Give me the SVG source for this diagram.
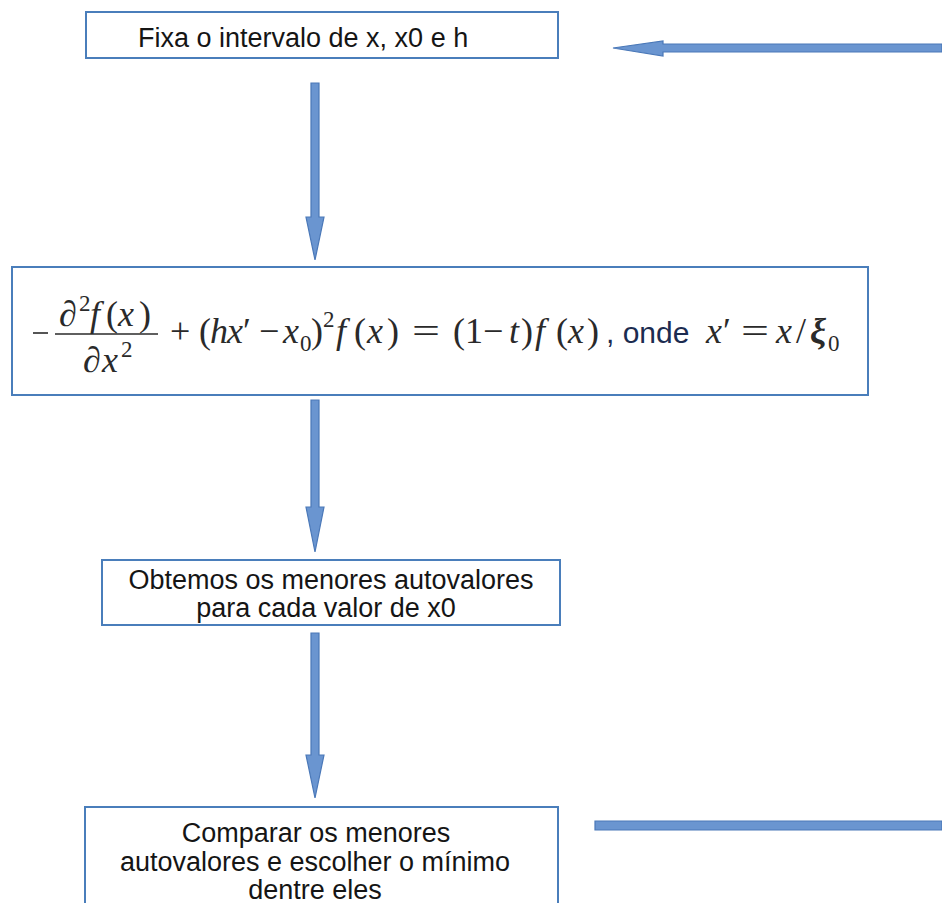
<svg xmlns="http://www.w3.org/2000/svg" width="942" height="903" viewBox="0 0 942 903">
<style>
.box{fill:#fff;stroke:#4a7ebb;stroke-width:2}
.arr{fill:#6a95d0;stroke:#4a78b8;stroke-width:1.2}
.t{font-family:"Liberation Sans",Arial,sans-serif;font-size:27px;fill:#151515}
.m{font-family:"Liberation Serif","Times New Roman",serif;font-size:36px;fill:#2a2a2a}
.i{font-style:italic}
.s{font-size:23px}
</style>
<rect width="942" height="903" fill="#fff"/>
<g id="connectors">
<polygon class="arr" points="613,48 663,41 663,44 942,44 942,52 663,52 663,56"/>
<polygon class="arr" points="311,83 319,83 319,217 324,217 315,260 306,217 311,217"/>
<polygon class="arr" points="311,400 319,400 319,507 324,507 315,552 306,507 311,507"/>
<polygon class="arr" points="311,633 319,633 319,755 324,755 315,798 306,755 311,755"/>
<polygon class="arr" points="595,821 942,821 942,830 595,830"/>
</g>
<g id="node1">
<rect class="box" x="86" y="12" width="472" height="46"/>
<text class="t" x="138" y="47">Fixa o intervalo de x, x0 e h</text>
</g>
<g id="node2">
<rect class="box" x="12" y="267" width="856" height="128"/>
<line x1="33" y1="333" x2="48" y2="333" stroke="#2a2a2a" stroke-width="1.6"/>
<line x1="55" y1="334" x2="158" y2="334" stroke="#2a2a2a" stroke-width="1.6"/>
<text class="m"><tspan x="59" y="326">∂</tspan><tspan class="s" x="79" y="311">2</tspan><tspan class="i" x="90" y="326">f</tspan><tspan x="106" y="326">(</tspan><tspan class="i" x="118" y="326">x</tspan><tspan x="139" y="326">)</tspan></text>
<text class="m"><tspan x="83" y="372">∂</tspan><tspan class="i" x="102" y="372">x</tspan><tspan class="s" x="121" y="357">2</tspan></text>
<text class="m"><tspan x="170" y="343">+</tspan><tspan x="199" y="343">(</tspan><tspan class="i" x="210" y="343">h</tspan><tspan class="i" x="227" y="343">x</tspan><tspan x="243" y="343">′</tspan><tspan x="259" y="343">−</tspan><tspan class="i" x="283" y="343">x</tspan><tspan class="s" x="300" y="351">0</tspan><tspan x="311" y="343">)</tspan><tspan class="s" x="323" y="327">2</tspan><tspan class="i" x="336" y="343">f</tspan><tspan x="354" y="343">(</tspan><tspan class="i" x="367" y="343">x</tspan><tspan x="387" y="343">)</tspan></text>
<text class="m" x="412" y="343" textLength="28" lengthAdjust="spacingAndGlyphs">=</text>
<text class="m"><tspan x="453" y="343">(</tspan><tspan x="465" y="343">1</tspan><tspan x="483" y="343">−</tspan><tspan class="i" x="509" y="343">t</tspan><tspan x="521" y="343">)</tspan><tspan class="i" x="535" y="343">f</tspan><tspan x="556" y="343">(</tspan><tspan class="i" x="568" y="343">x</tspan><tspan x="587" y="343">)</tspan></text>
<text x="606" y="343" style="font-family:'Liberation Sans',Arial,sans-serif;font-size:30px;fill:#1c2c50">, onde</text>
<text class="m"><tspan class="i" x="706" y="343">x</tspan><tspan x="723" y="343">′</tspan></text>
<text class="m" x="741" y="343" textLength="28" lengthAdjust="spacingAndGlyphs">=</text>
<text class="m"><tspan class="i" x="776" y="343">x</tspan><tspan x="796" y="343">/</tspan><tspan class="i" x="810" y="343" font-weight="bold">ξ</tspan><tspan class="s" x="828" y="351">0</tspan></text>
</g>
<g id="node3">
<rect class="box" x="102" y="560" width="458" height="65"/>
<text class="t" text-anchor="middle"><tspan x="331" y="589">Obtemos os menores autovalores</tspan><tspan x="326" y="617">para cada valor de x0</tspan></text>
</g>
<g id="node4">
<rect class="box" x="85" y="807" width="473" height="120"/>
<text class="t" text-anchor="middle"><tspan x="316" y="842">Comparar os menores</tspan><tspan x="315" y="871">autovalores e escolher o mínimo</tspan><tspan x="315" y="899">dentre eles</tspan></text>
</g>
</svg>
